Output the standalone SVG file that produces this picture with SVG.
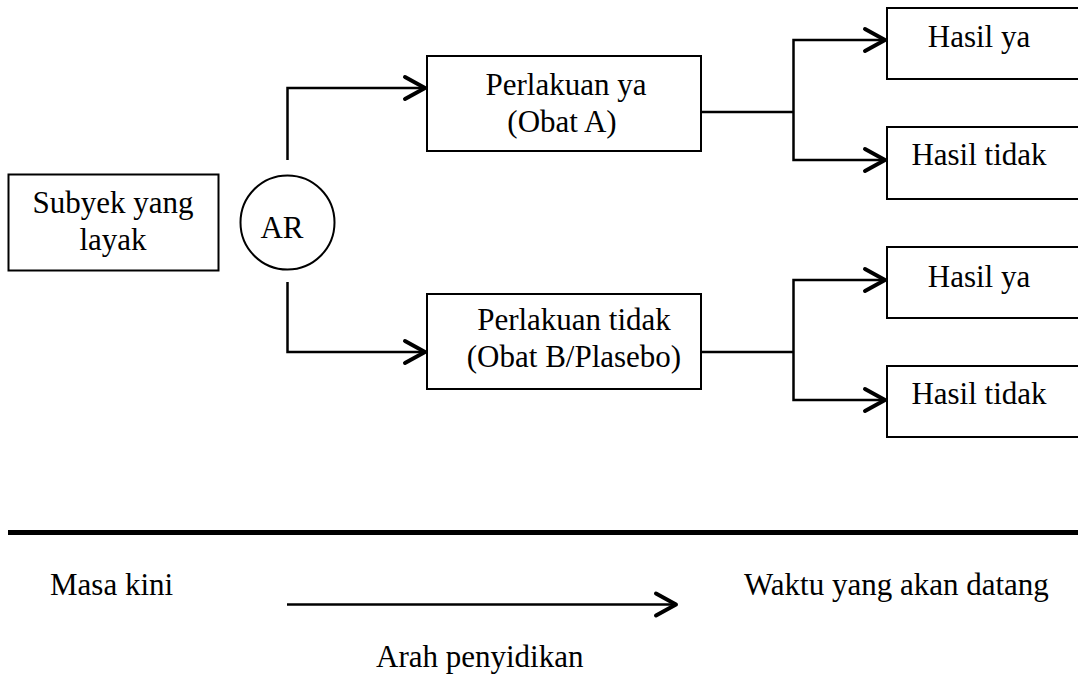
<svg xmlns="http://www.w3.org/2000/svg" width="1078" height="675" viewBox="0 0 1078 675">
  <defs>
    <style>
      .box { fill: #fff; stroke: #000; stroke-width: 2; }
      text { font-family: 'Liberation Serif', Tinos, 'Nimbus Roman', 'DejaVu Serif', serif; font-size: 31px; fill: #000; }
      .c { text-anchor: middle; }
      .ln { fill: none; stroke: #000; stroke-width: 2.5; }
      .ah { fill: none; stroke: #000; stroke-width: 4; stroke-linecap: round; stroke-linejoin: round; }
    </style>
  </defs>
  <rect width="1078" height="675" fill="#fff"/>

  <g id="subyek">
    <rect class="box" x="8.5" y="174.5" width="210" height="96"/>
    <text class="c" x="113" y="213">Subyek yang</text>
    <text class="c" x="113" y="250">layak</text>
  </g>

  <g id="ar">
    <circle class="box" cx="287.5" cy="222.5" r="47"/>
    <text class="c" x="282" y="238">AR</text>
  </g>

  <g id="perlakuan-ya">
    <rect class="box" x="427" y="56" width="274" height="95"/>
    <text class="c" x="566" y="95">Perlakuan ya</text>
    <text class="c" x="562" y="132">(Obat A)</text>
  </g>

  <g id="perlakuan-tidak">
    <rect class="box" x="427" y="294" width="274" height="95"/>
    <text class="c" x="574" y="330">Perlakuan tidak</text>
    <text class="c" x="574" y="367">(Obat B/Plasebo)</text>
  </g>

  <g id="hasil-ya-1">
    <rect class="box" x="887" y="8" width="200" height="71"/>
    <text class="c" x="979" y="47">Hasil ya</text>
  </g>
  <g id="hasil-tidak-1">
    <rect class="box" x="887" y="127" width="200" height="72"/>
    <text class="c" x="979" y="165">Hasil tidak</text>
  </g>
  <g id="hasil-ya-2">
    <rect class="box" x="887" y="247" width="200" height="71"/>
    <text class="c" x="979" y="287">Hasil ya</text>
  </g>
  <g id="hasil-tidak-2">
    <rect class="box" x="887" y="366" width="200" height="71"/>
    <text class="c" x="979" y="404">Hasil tidak</text>
  </g>

  <g id="connectors">
    <path class="ln" d="M287.5,160 V88 H424"/>
    <path class="ah" d="M405,77 L425,88 L405,99"/>
    <path class="ln" d="M287.5,282 V352 H424"/>
    <path class="ah" d="M405,341 L425,352 L405,363"/>

    <path class="ln" d="M701,112 H793.5"/>
    <path class="ln" d="M884,40 H793.5 V160 H884"/>
    <path class="ah" d="M865,29 L885,40 L865,51"/>
    <path class="ah" d="M865,149 L885,160 L865,171"/>

    <path class="ln" d="M701,352 H793.5"/>
    <path class="ln" d="M884,280 H793.5 V400 H884"/>
    <path class="ah" d="M865,269 L885,280 L865,291"/>
    <path class="ah" d="M865,389 L885,400 L865,411"/>
  </g>

  <g id="timeline">
    <line x1="8" y1="532.5" x2="1078" y2="532.5" stroke="#000" stroke-width="5"/>
    <path class="ln" d="M287,604.5 H675"/>
    <path class="ah" d="M656,593.5 L676,604.5 L656,615.5"/>
    <text x="50" y="595">Masa kini</text>
    <text x="744" y="595">Waktu yang akan datang</text>
    <text x="376" y="667">Arah penyidikan</text>
  </g>
</svg>
